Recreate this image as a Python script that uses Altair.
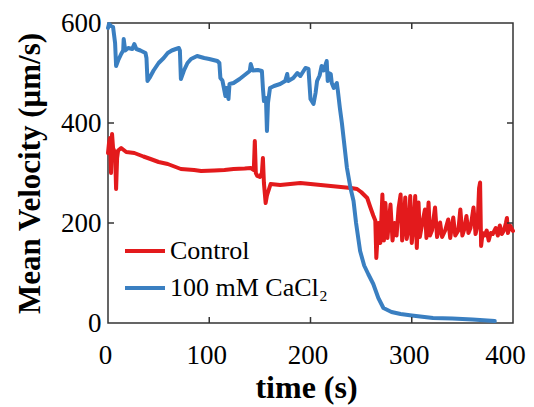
import altair as alt
import pandas as pd

# Control (red) series
ctrl_t = [0, 1, 2, 3, 4, 5, 6, 7, 8, 9, 10, 13, 18, 26, 35, 42, 50, 59, 72, 85, 92,
          105, 115, 124, 135, 141, 144, 145, 146, 147.5, 150, 152, 153, 154, 155.7, 157,
          160.6, 170, 180, 190, 200, 210, 220, 230, 240, 246, 250, 256, 259, 262, 264,
          265, 267, 269, 271, 272.5, 274, 276, 279, 281, 283, 285, 287, 289, 290.5, 292,
          293.6, 295, 297, 298.5, 300, 302, 303.4, 305, 306.7, 308, 310, 313, 314.5,
          316.6, 318, 320, 323, 325, 327, 328, 330, 333, 336, 338, 341, 343, 346, 348,
          350, 352, 354, 356, 358, 361, 363, 365, 366.5, 367.5, 368.5, 370, 372, 374,
          376, 378, 380, 383, 385, 387, 389, 391, 393, 394, 395, 397, 400]
ctrl_v = [340, 360, 370, 300, 378, 350, 345, 340, 268, 330, 345, 350, 342, 340, 333,
          328, 322, 318, 308, 306, 304, 305, 306, 308, 309, 310, 306, 364, 300, 294,
          292, 300, 330, 280, 240, 255, 278, 276, 278, 280, 278, 276, 274, 272, 270,
          268, 262, 250, 232, 215, 205, 130, 200, 160, 257, 165, 240, 170, 237, 165,
          200, 175, 230, 257, 165, 200, 251, 168, 190, 254, 160, 200, 254, 150, 241,
          172, 195, 227, 170, 241, 175, 185, 231, 172, 190, 201, 172, 185, 207, 170,
          211, 175, 185, 227, 175, 188, 214, 180, 190, 231, 178, 195, 270, 281, 154,
          180, 175, 185, 165, 180, 178, 190, 175, 195, 178, 185, 200, 210, 180, 195, 184]

# 100 mM CaCl2 (blue) series
ca_t = [0, 1, 3, 5, 7, 8, 10, 13, 15, 15.5, 17, 20, 24, 26, 28, 32, 37, 38, 39, 41,
        45, 50, 55, 59, 63, 67, 70, 71, 72, 75, 78.5, 82, 88, 95, 100, 108, 110, 111,
        113, 116, 117, 119, 120, 124, 130, 135, 140, 141, 143, 148, 152, 153, 154, 156,
        157, 158, 160, 164, 170, 175, 177, 178, 183, 187, 190, 195, 198, 200, 203, 205,
        206.5, 209, 211, 213, 216, 217, 218, 220, 221, 223, 226, 227, 229, 231, 233,
        236, 239.5, 242.5, 245, 249, 253, 257, 262, 267, 272, 280, 289, 300, 321, 340,
        360, 382]
ca_v = [590, 598, 594, 592, 560, 514, 525, 538, 545, 568, 545, 550, 548, 558, 548,
        545, 540, 530, 484, 490, 505, 520, 530, 540, 545, 548, 550, 545, 488, 505, 520,
        528, 534, 530, 528, 524, 520, 490, 485, 454, 470, 448, 478, 480, 488, 496, 504,
        518, 505, 506, 504, 470, 444, 450, 384, 440, 470, 474, 478, 484, 498, 484, 490,
        500, 494, 510, 508, 448, 438, 460, 484, 495, 514, 505, 524, 484, 500, 498, 480,
        470, 480, 465, 430, 400, 364, 310, 270, 244, 200, 144, 115, 98, 78, 50, 30, 22,
        18, 15, 10, 9, 7, 4]

series_names = ["Control", "100 mM CaCl\u2082"]
series_colors = ["#e31a1c", "#3a7fc1"]
x_ticks_inner = [100, 200, 300]
y_ticks_inner = [200, 400]

df = pd.concat([
    pd.DataFrame({"t": ctrl_t, "v": ctrl_v, "s": series_names[0]}),
    pd.DataFrame({"t": ca_t, "v": ca_v, "s": series_names[1]}),
])

W, H = 405, 300
FONT = "Liberation Serif"

xscale = alt.Scale(domain=[0, 400], nice=False)
yscale = alt.Scale(domain=[0, 600], nice=False)

lines = alt.Chart(df).mark_line(strokeWidth=4, strokeJoin="round", strokeCap="round").encode(
    x=alt.X("t:Q", scale=xscale, title="time (s)",
            axis=alt.Axis(values=[0, 100, 200, 300, 400], domain=False, ticks=False,
                          grid=False, labelPadding=19, titlePadding=4, titleX=198,
                          titleFontSize=32, labelFlush=False,
                          labelOffset={"condition": {"test": "datum.value == 400", "value": -8},
                                       "value": -3})),
    y=alt.Y("v:Q", scale=yscale, title="Mean Velocity  (\u03bcm/s)",
            axis=alt.Axis(values=[0, 200, 400, 600], domain=False, ticks=False,
                          grid=False, labelPadding=7, titlePadding=14,
                          titleFontSize=31, labelFlush=False)),
    color=alt.Color("s:N", scale=alt.Scale(domain=series_names, range=series_colors),
                    legend=alt.Legend(orient="none", legendX=15, legendY=206, title=None,
                                      symbolType="stroke", symbolSize=1600,
                                      symbolStrokeWidth=4, rowPadding=2, padding=0,
                                      labelFontSize=26, labelFont=FONT, labelColor="black",
                                      labelOffset=3)),
    detail="s:N",
)

xt = pd.DataFrame({"t": x_ticks_inner})
yt = pd.DataFrame({"v": y_ticks_inner})
tick_color = "#333333"
bot = alt.Chart(xt).mark_rule(color=tick_color, strokeWidth=1.5).encode(
    x=alt.X("t:Q", scale=xscale), y=alt.value(H), y2=alt.value(H - 6))
top = alt.Chart(xt).mark_rule(color=tick_color, strokeWidth=1.5).encode(
    x=alt.X("t:Q", scale=xscale), y=alt.value(0), y2=alt.value(6))
left = alt.Chart(yt).mark_rule(color=tick_color, strokeWidth=1.5).encode(
    y=alt.Y("v:Q", scale=yscale), x=alt.value(0), x2=alt.value(6))
right = alt.Chart(yt).mark_rule(color=tick_color, strokeWidth=1.5).encode(
    y=alt.Y("v:Q", scale=yscale), x=alt.value(W), x2=alt.value(W - 6))

chart = alt.layer(lines, bot, top, left, right).properties(
    width=W, height=H,
    autosize=alt.AutoSizeParams(type="none"),
    padding={"left": 100, "top": 15, "right": 13, "bottom": 84},
).configure_view(
    stroke=tick_color, strokeWidth=1.5
).configure_axis(
    labelFont=FONT, titleFont=FONT, labelFontSize=27,
    labelColor="black", titleColor="black", titleFontWeight="bold"
)

chart.save("out.html", embed_options={"renderer": "svg", "actions": False})
